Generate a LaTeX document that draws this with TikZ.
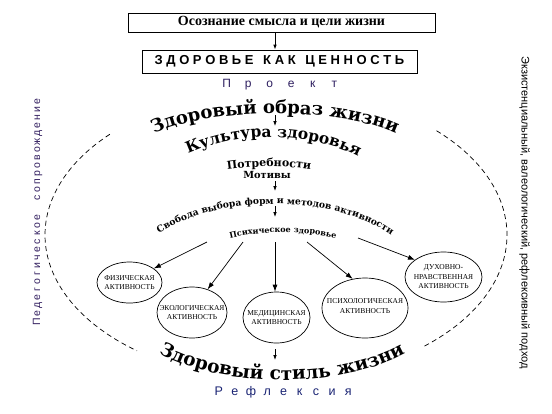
\documentclass[tikz,border=0pt]{standalone}
\usepackage{fontspec}
\setmainfont{Liberation Serif}
\setsansfont{Liberation Sans}
\newfontfamily\archfont{DejaVu Serif}
\usetikzlibrary{arrows.meta,shapes.geometric,decorations.text,shadows}
\definecolor{projc}{RGB}{45,30,95}
\definecolor{reflc}{RGB}{25,35,115}
\definecolor{pedc}{RGB}{50,30,95}
\makeatletter
\def\spaceit#1#2{\def\my@pitch{#1}\my@sp#2\relax}
\def\my@sp#1{\ifx#1\relax\else\makebox[\my@pitch]{#1}\expandafter\my@sp\fi}
\makeatother
\begin{document}
\begin{tikzpicture}[x=1pt,y=-1pt,
 arr/.style={-{Latex[length=5pt,width=3.6pt]},line width=0.8pt},
 farr/.style={-{Latex[length=7pt,width=5pt]},line width=0.7pt},
 box/.style={draw,line width=0.8pt,fill=white,inner sep=0pt,drop shadow={shadow xshift=1pt,shadow yshift=-1pt,fill=black!60,opacity=1}},
 ell/.style={draw,ellipse,line width=0.7pt,inner sep=0pt},
 elltxt/.style={font=\fontsize{7.5}{9.5}\selectfont,align=center,inner sep=0pt},
 spaced/.style={font=\sffamily\fontsize{#1}{14}\selectfont,inner sep=0pt,anchor=base},
 dashline/.style={line width=0.7pt,dash pattern=on 5pt off 3.5pt}
]
\useasboundingbox (0,0) rectangle (552,413);

% dashed frame
\draw[dashline] plot[domain=136:233,samples=80] ({276+231*cos(\x)},{235-145*sin(\x)});
\draw[dashline] plot[domain=-50:47,samples=80] ({276+231*cos(\x)},{235-145*sin(\x)});

% top boxes
\node[box,font=\bfseries\fontsize{14}{16}\selectfont,minimum width=307pt,minimum height=19pt] (box1) at (281.5,22.5) {Осознание смысла и цели жизни};
\node[box,font=\sffamily\bfseries\fontsize{13}{15}\selectfont,minimum width=275pt,minimum height=23pt] (box2) at (279.5,61.5) {З Д О Р О В Ь Е\hspace{6pt} К А К\hspace{6pt} Ц Е Н Н О С Т Ь};
\coordinate (axis) at (275,0);
\draw[arr] (box1.south -| axis) -- (box2.north -| axis);

\node[spaced=12,text=projc] (proj) at (280.5,87) {\spaceit{21.5pt}{Проект}};

% arched texts
\path[decorate,decoration={text along path,text align=center,text={|\archfont\bfseries\fontsize{18}{21}\selectfont|Здоровый образ жизни}}] (140,142) .. controls (192,104) and (358,104) .. (410,142);
\coordinate (a1s) at (275,115); \coordinate (a1e) at (275,126);
\draw[arr] (a1s) -- (a1e);

\path[decorate,decoration={text along path,text align=center,text={|\archfont\bfseries\fontsize{15.5}{18}\selectfont|Культура здоровья}}] (168,165) .. controls (226,127) and (322,127) .. (378,169);

\path[decorate,decoration={text along path,text align=center,text={|\archfont\bfseries\fontsize{11}{13}\selectfont|Потребности}}] (209,173) .. controls (245,164.5) and (293,164.5) .. (329,173);

\node[font=\archfont\bfseries\fontsize{9.8}{12}\selectfont,anchor=base,inner sep=0pt] (motiv) at (267,178) {Мотивы};
\coordinate (a2s) at (275,181); \coordinate (a2e) at (275,191);
\draw[arr] (a2s) -- (a2e);

\path[decorate,decoration={text along path,text align=center,text={|\archfont\bfseries\fontsize{9.2}{11}\selectfont|Свобода выбора форм и методов активности}}] (140,250) .. controls (195,188.3) and (355,188.3) .. (410,252);
\coordinate (a3s) at (275,206); \coordinate (a3e) at (275,217);
\draw[arr] (a3s) -- (a3e);

\path[decorate,decoration={text along path,text align=center,text={|\archfont\bfseries\fontsize{8}{10}\selectfont|Психическое здоровье}}] (218,242) .. controls (252,229.5) and (314,229.5) .. (348,242);

% activity ellipses
\node[ell,minimum width=65pt,minimum height=41pt] (fiz) at (129.5,282.5) {};
\node[elltxt] (fizt) at (fiz) {ФИЗИЧЕСКАЯ\\АКТИВНОСТЬ};
\node[ell,minimum width=70pt,minimum height=51pt] (eko) at (192,312.5) {};
\node[elltxt] (ekot) at (eko) {ЭКОЛОГИЧЕСКАЯ\\АКТИВНОСТЬ};
\node[ell,minimum width=67pt,minimum height=51pt] (med) at (276.5,317.5) {};
\node[elltxt] (medt) at (med) {МЕДИЦИНСКАЯ\\АКТИВНОСТЬ};
\node[ell,minimum width=86pt,minimum height=60pt] (psy) at (365,308) {};
\node[elltxt] (psyt) at ([yshift=2pt]psy) {ПСИХОЛОГИЧЕСКАЯ\\АКТИВНОСТЬ};
\node[ell,minimum width=77pt,minimum height=50pt] (duh) at (443.5,277) {};
\node[elltxt] (duht) at (duh) {ДУХОВНО-\\НРАВСТВЕННАЯ\\АКТИВНОСТЬ};

\coordinate (s1) at (207,242);
\coordinate (s2) at (243,242);
\coordinate (s3) at (275,242);
\coordinate (s4) at (307,242);
\coordinate (s5) at (358,238);
\draw[farr] (s1) -- (fiz.30);
\draw[farr] (s2) -- (eko.56);
\draw[farr] (s3) -- (s3 |- med.north);
\draw[farr] (s4) -- (psy.113);
\draw[farr] (s5) -- (duh.149);

\coordinate (b1) at (275,349); \coordinate (b2) at (275,360);
\draw[arr] (b1) -- (b2);

\path[decorate,decoration={text along path,text align=center,text={|\archfont\bfseries\fontsize{18.5}{22}\selectfont|Здоровый стиль жизни}}] (140,340) .. controls (202,393.3) and (362,393.3) .. (424,340);

\node[spaced=12.5,text=reflc] (refl) at (283.5,395) {\spaceit{16.2pt}{Рефлексия}};

% side texts
\node[font=\sffamily\fontsize{10.5}{12}\selectfont,text=pedc,rotate=90,inner sep=0pt] (ped) at (37.5,211.5) {\spaceit{8pt}{Педегогическое}\hspace{12pt}\spaceit{8pt}{сопровождение}};
\node[font=\sffamily\fontsize{11}{13}\selectfont,rotate=-90,inner sep=0pt] (appr) at (524.5,212.5) {Экзистенциальный, валеологический, рефлексивный подход};
\end{tikzpicture}
\end{document}
